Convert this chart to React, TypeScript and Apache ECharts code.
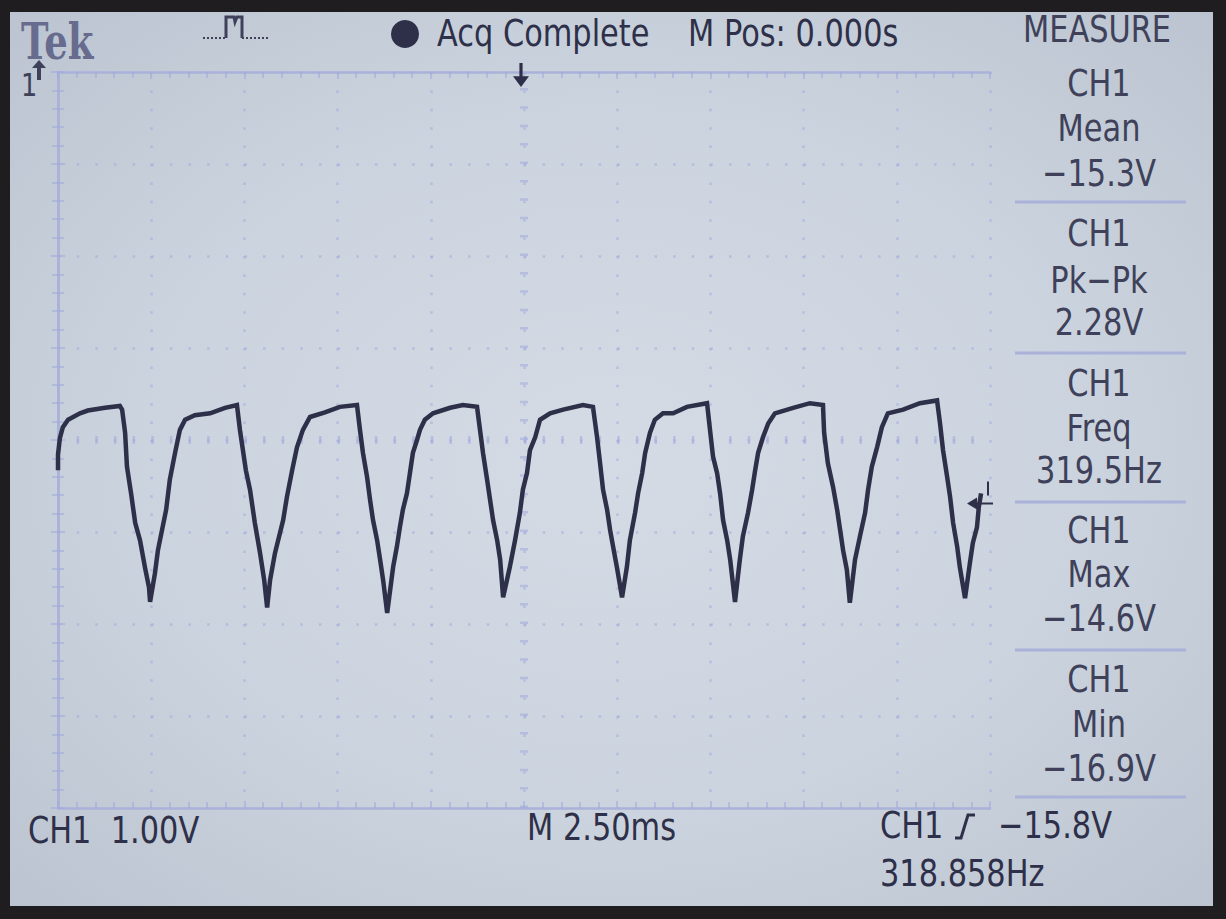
import React, { useEffect, useRef } from "react";
import * as echarts from "echarts";

// ---- Data (time in ms, CH1 voltage in V) ----
const cycle1 = [
  [0, -15.33], [0, -15.16], [0.05, -14.98], [0.13, -14.86], [0.27, -14.78], [0.59, -14.71], [0.8, -14.68], [1.26, -14.65], [1.66, -14.63],
  [1.72, -14.67], [1.8, -14.92], [1.85, -15.29], [1.96, -15.58], [2.07, -15.9], [2.2, -16.09], [2.33, -16.38], [2.44, -16.6], [2.47, -16.76],
];
const cycle2 = [
  [2.6, -16.45], [2.68, -16.2], [2.79, -15.98], [2.9, -15.76], [3.0, -15.43], [3.14, -15.14], [3.27, -14.89], [3.41, -14.78], [3.67, -14.73], [4.08, -14.71], [4.48, -14.65], [4.8, -14.62],
  [4.88, -14.89], [5.04, -15.33], [5.15, -15.54], [5.28, -15.9], [5.42, -16.23], [5.53, -16.52], [5.61, -16.82],
];
const cycle3 = [
  [5.69, -16.52], [5.82, -16.23], [6.04, -15.87], [6.14, -15.62], [6.28, -15.33], [6.41, -15.08], [6.57, -14.89], [6.76, -14.75], [7.16, -14.7], [7.56, -14.64], [8.02, -14.62],
  [8.1, -14.89], [8.18, -15.14], [8.29, -15.4], [8.37, -15.65], [8.45, -15.87], [8.56, -16.09], [8.64, -16.3], [8.72, -16.52], [8.83, -16.88],
];
const cycle4 = [
  [8.99, -16.38], [9.09, -16.16], [9.17, -15.95], [9.25, -15.76], [9.36, -15.58], [9.44, -15.36], [9.52, -15.14], [9.63, -15.0], [9.71, -14.89], [9.84, -14.78], [10.06, -14.71], [10.52, -14.65], [10.86, -14.62], [11.24, -14.64],
  [11.32, -14.89], [11.4, -15.14], [11.51, -15.43], [11.59, -15.65], [11.67, -15.87], [11.78, -16.09], [11.86, -16.3], [11.94, -16.71],
];
const cycle5 = [
  [12.12, -16.38], [12.26, -16.09], [12.39, -15.79], [12.47, -15.54], [12.58, -15.36], [12.66, -15.11], [12.8, -14.97], [12.93, -14.78], [13.2, -14.71], [13.55, -14.67], [14.08, -14.62], [14.35, -14.64],
  [14.46, -14.97], [14.54, -15.25], [14.62, -15.54], [14.73, -15.76], [14.81, -15.98], [14.89, -16.16], [14.99, -16.38], [15.13, -16.71],
];
const cycle6 = [
  [15.26, -16.38], [15.34, -16.09], [15.48, -15.79], [15.56, -15.58], [15.67, -15.36], [15.75, -15.14], [15.88, -14.92], [16.01, -14.78], [16.23, -14.71], [16.5, -14.71], [16.87, -14.64], [17.41, -14.6],
  [17.49, -14.89], [17.57, -15.18], [17.68, -15.36], [17.76, -15.58], [17.84, -15.87], [17.95, -16.09], [18.03, -16.3], [18.16, -16.76],
];
const cycle7 = [
  [18.29, -16.3], [18.37, -16.05], [18.51, -15.79], [18.62, -15.54], [18.7, -15.33], [18.78, -15.14], [18.91, -14.97], [19.05, -14.82], [19.23, -14.71], [19.72, -14.65], [20.17, -14.6], [20.52, -14.62],
  [20.55, -14.92], [20.65, -15.25], [20.79, -15.51], [20.9, -15.76], [20.98, -15.98], [21.06, -16.2], [21.16, -16.41], [21.24, -16.77],
];
const cycle8 = [
  [21.38, -16.3], [21.51, -16.05], [21.65, -15.79], [21.73, -15.54], [21.83, -15.29], [21.97, -15.08], [22.1, -14.86], [22.26, -14.71], [22.67, -14.67], [23.12, -14.6], [23.58, -14.57],
  [23.66, -14.82], [23.74, -15.11], [23.85, -15.4], [23.93, -15.62], [24.01, -15.9], [24.12, -16.16], [24.19, -16.38], [24.33, -16.72],
  [24.46, -16.34], [24.54, -16.12], [24.65, -15.95], [24.7, -15.73], [24.76, -15.58],
];

// Scope settings
const timeRange = [0, 25]; // ms, 2.50 ms/div x 10 div
const timePerDiv = 2.5;
const voltRange = [-19, -11]; // V, 1.00 V/div x 8 div
const voltPerDiv = 1;
const triggerTime = 12.5;
const triggerLevel = -15.8;

const topTexts = ["Acq Complete", "M Pos: 0.000s"];
const measureTitle = "MEASURE";
const measurements = [
  ["CH1", "Mean", "\u221215.3V"],
  ["CH1", "Pk\u2212Pk", "2.28V"],
  ["CH1", "Freq", "319.5Hz"],
  ["CH1", "Max", "\u221214.6V"],
  ["CH1", "Min", "\u221216.9V"],
];
const bottomTexts = ["CH1  1.00V", "M 2.50ms", "CH1", "\u221215.8V", "318.858Hz"];

const INK = "#2e3049";
const INK2 = "#3e4159";
const BORDER = "#aab2da";
const DOTS = "rgba(160,170,220,0.55)";
const FONT = '"DejaVu Sans", sans-serif';

function txt(text: string, x: number, y: number, opts: any = {}) {
  const size = opts.size || 38;
  return {
    type: "text",
    x,
    y,
    scaleX: opts.sx ?? 0.8,
    z: 20,
    style: {
      text,
      font: `${opts.weight || "normal"} ${size}px ${opts.family || FONT}`,
      fill: opts.color || INK,
      textAlign: opts.align || "left",
      textVerticalAlign: "middle",
    },
  };
}

export default function App() {
  const ref = useRef<HTMLDivElement>(null);
  useEffect(() => {
    document.body.style.margin = "0";
    const chart = echarts.init(ref.current!, null, { renderer: "svg" });
    const trace = [...cycle1, ...cycle2, ...cycle3, ...cycle4, ...cycle5, ...cycle6, ...cycle7, ...cycle8];

    const axisCommon = {
      axisLabel: { show: false },
      axisLine: { show: true, lineStyle: { color: BORDER, width: 2.5 } },
      axisTick: { show: true, inside: true, length: 7, lineStyle: { color: DOTS, width: 2 } },
      minorTick: { show: true, splitNumber: 5, length: 6, lineStyle: { color: DOTS, width: 2 } },
    };

    const panelCx = 1099;
    const rowY = [
      [83, 128, 173],
      [233, 280, 322],
      [383, 428, 470],
      [530, 574, 618],
      [679, 724, 768],
    ];
    const sepY = [202, 353, 502, 650, 797];

    const graphics: any[] = [];
    // bezel
    graphics.push(
      { type: "rect", z: 30, shape: { x: 0, y: 0, width: 1226, height: 12 }, style: { fill: "#1f1d20" } },
      { type: "rect", z: 30, shape: { x: 0, y: 0, width: 10, height: 919 }, style: { fill: "#1f1d20" } },
      { type: "rect", z: 30, shape: { x: 1213, y: 0, width: 13, height: 919 }, style: { fill: "#1f1d20" } },
      { type: "rect", z: 30, shape: { x: 0, y: 906, width: 1226, height: 13 }, style: { fill: "#1f1d20" } }
    );
    // top bar
    graphics.push(txt("Tek", 21, 41, { family: '"DejaVu Serif", serif', weight: "bold", size: 50, sx: 0.74, color: "#676c8e" }));
    graphics.push(
      { type: "polyline", z: 20, shape: { points: [[203, 38], [226, 38]] }, style: { stroke: INK2, lineWidth: 2, lineDash: [2, 2], fill: null } },
      { type: "polyline", z: 20, shape: { points: [[226, 38], [226, 17], [234, 17], [235, 22], [237, 17], [242, 17], [242, 38]] }, style: { stroke: INK2, lineWidth: 3, fill: null } },
      { type: "polyline", z: 20, shape: { points: [[242, 38], [270, 38]] }, style: { stroke: INK2, lineWidth: 2, lineDash: [2, 2], fill: null } }
    );
    graphics.push({ type: "circle", z: 20, shape: { cx: 405, cy: 34, r: 14 }, style: { fill: INK } });
    graphics.push(txt(topTexts[0], 437, 33));
    graphics.push(txt(topTexts[1], 688, 33));
    graphics.push(txt(measureTitle, panelCx - 2, 29, { align: "center", color: INK2 }));
    // ground marker "1" with up arrow
    graphics.push(txt("1", 21, 85, { size: 32, color: INK2 }));
    graphics.push({ type: "polygon", z: 20, shape: { points: [[39, 60], [46, 68], [41, 68], [41, 80], [37, 80], [37, 68], [32, 68]] }, style: { fill: INK2 } });
    // measure panel
    measurements.forEach((m, i) => {
      m.forEach((s, j) => graphics.push(txt(s, panelCx, rowY[i][j], { align: "center", color: INK2 })));
    });
    sepY.forEach((y) =>
      graphics.push({ type: "line", z: 20, shape: { x1: 1015, y1: y, x2: 1186, y2: y }, style: { stroke: BORDER, lineWidth: 3 } })
    );
    // bottom
    graphics.push(txt(bottomTexts[0], 28, 830));
    graphics.push(txt(bottomTexts[1], 527, 827));
    graphics.push(txt(bottomTexts[2], 880, 825));
    graphics.push({ type: "polyline", z: 20, shape: { points: [[955, 838], [961, 838], [968, 815], [975, 815]] }, style: { stroke: INK, lineWidth: 3, fill: null } });
    graphics.push(txt(bottomTexts[3], 998, 825));
    graphics.push(txt(bottomTexts[4], 880, 873));

    chart.setOption({
      animation: false,
      backgroundColor: "transparent",
      grid: { left: 58, top: 72, width: 932, height: 736 },
      xAxis: [
        {
          type: "value", min: timeRange[0], max: timeRange[1], interval: timePerDiv, position: "bottom",
          ...axisCommon,
          splitLine: { show: true, lineStyle: { color: DOTS, width: 2.5, type: [2.5, 15.9] } },
        },
        { type: "value", min: timeRange[0], max: timeRange[1], interval: timePerDiv, position: "top", ...axisCommon, splitLine: { show: false } },
      ],
      yAxis: [
        {
          type: "value", min: voltRange[0], max: voltRange[1], interval: voltPerDiv, position: "left",
          ...axisCommon,
          splitLine: { show: true, lineStyle: { color: DOTS, width: 2.5, type: [2.5, 16.14] } },
        },
        { type: "value", min: voltRange[0], max: voltRange[1], interval: voltPerDiv, position: "right", ...axisCommon, splitLine: { show: false } },
      ],
      series: [
        {
          type: "line",
          data: trace,
          showSymbol: false,
          symbol: "none",
          lineStyle: { color: INK, width: 4.5, join: "miter" },
          z: 5,
          markLine: {
            silent: true,
            symbol: "none",
            label: { show: false },
            data: [
              { xAxis: triggerTime, lineStyle: { color: DOTS, width: 8, type: [2.5, 15.9] } },
              { yAxis: (voltRange[0] + voltRange[1]) / 2, lineStyle: { color: DOTS, width: 8, type: [2.5, 16.14] } },
            ],
          },
          markPoint: {
            silent: true,
            label: { show: false },
            itemStyle: { color: INK },
            data: [
              { coord: [triggerTime, voltRange[1]], symbol: "path://M4,0 L6,0 L6,10 L10,10 L5,18 L0,10 L4,10 Z", symbolSize: [16, 24], symbolOffset: [-3, 3] },
              {
                coord: [timeRange[1], triggerLevel],
                symbol: "path://M20,0 L22,0 L22,14 L20,14 Z M0,22 L10,16 L10,21 L26,21 L26,23 L10,23 L10,28 Z",
                symbolSize: [26, 28],
                symbolOffset: [-10, -18],
              },
            ],
          },
        },
      ],
      graphic: graphics,
    });
    return () => chart.dispose();
  }, []);
  return (
    <div
      ref={ref}
      style={{
        position: "absolute",
        left: 0,
        top: 0,
        width: 1226,
        height: 919,
        background: "radial-gradient(ellipse at 50% 50%, #d4dbe5 0%, #cbd3de 55%, #bac3cf 100%)",
      }}
    />
  );
}
